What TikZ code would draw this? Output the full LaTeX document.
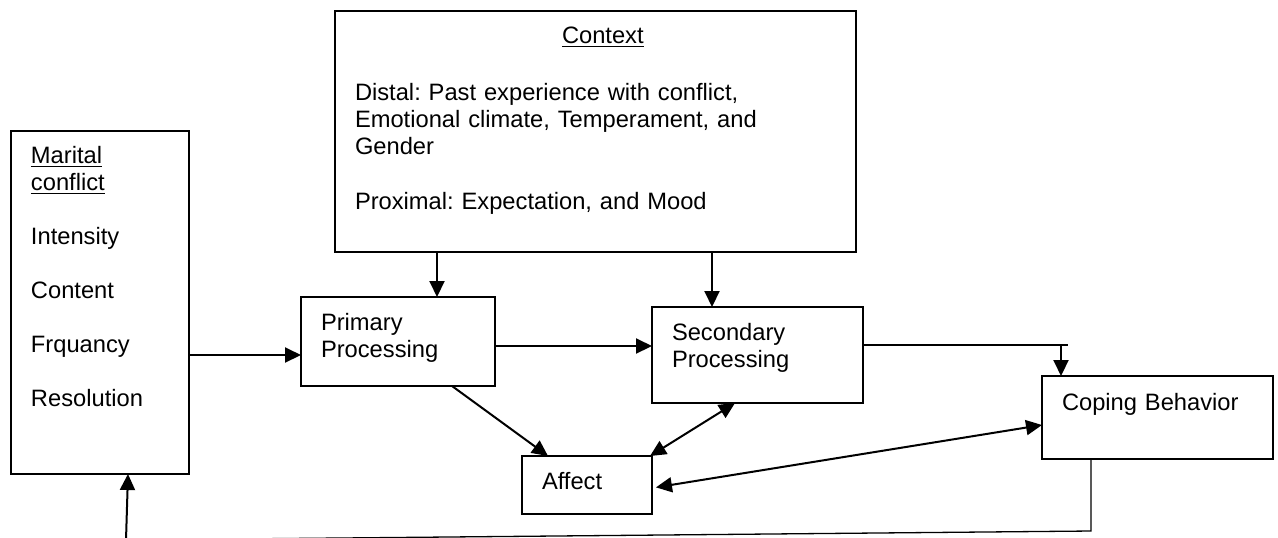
\documentclass[tikz,border=0pt]{standalone}
\usepackage{fontspec}
\setmainfont{Liberation Sans}
\frenchspacing
\usepackage{tikz}
\usetikzlibrary{arrows.meta,positioning}

\begin{document}
\begin{tikzpicture}[
x=0.5pt,y=-0.5pt,
box/.style={draw,line width=0.8pt,anchor=north west,inner xsep=10pt,inner ysep=0pt,outer sep=0pt,align=left,font=\fontsize{11.85}{13.5}\selectfont},
arr/.style={-{Triangle[length=8pt,width=7.5pt]},line width=1pt},
both/.style={{Triangle[length=8pt,width=7.5pt]}-{Triangle[length=8pt,width=7.5pt]},line width=1pt},
line/.style={line width=0.65pt}
]
\useasboundingbox (0,0) rectangle (1278,537);

\node[box,text width=69pt,text height=16pt,text depth=155.5pt] (marital) at (11,131)
  {\underline{Marital}\\\underline{conflict}\\[13.5pt]Intensity\\[13.5pt]Content\\[13.5pt]Frquancy\\[13.5pt]Resolution};
\node[box,text width=240.5pt,text height=16pt,text depth=104.5pt] (context) at (335,11)
  {\hspace*{103.5pt}\underline{Context}\\[15pt]Distal: Past experience with conflict,\\Emotional climate, Temperament, and\\Gender\\[14pt]Proximal: Expectation, and Mood};
\node[box,text width=77pt,text height=16.5pt,text depth=28pt] (primary) at (301,297) {Primary\\Processing};
\node[box,text width=85.5pt,text height=16.5pt,text depth=31.5pt] (secondary) at (652,307) {Secondary\\Processing};
\node[box,text width=95.5pt,text height=17pt,text depth=24.5pt] (coping) at (1042,376) {Coping Behavior};
\node[box,text width=45pt,text height=16.5pt,text depth=12.5pt] (affect) at (522,456) {Affect};

\coordinate (tick) at (1068,345);
\coordinate (back) at (126,540);

\draw[arr] (marital.east |- 0,355) -- (primary.west |- 0,355);
\draw[arr] (context.south -| 437,0) -- (primary.north -| 437,0);
\draw[arr] (context.south -| 712,0) -- (secondary.north -| 712,0);
\draw[arr] (primary.east |- 0,346) -- (secondary.west |- 0,346);
\draw[line] (secondary.east |- tick) -- (tick);
\draw[arr] (tick -| 1061,0) -- (coping.north -| 1061,0);
\draw[arr] (primary.south -| 452,0) -- (affect.north -| 548,0);
\draw[both] (affect.north -| 650,0) -- (secondary.south -| 735,0);
\draw[both,shorten <=2pt] (affect.east |- 0,488) -- (coping.west |- 0,425);
\draw[line] (coping.south -| 1091,0) -- (1091,531) -- (back);
\draw[arr] (back) -- (marital.south -| 128,0);
\end{tikzpicture}
\end{document}
